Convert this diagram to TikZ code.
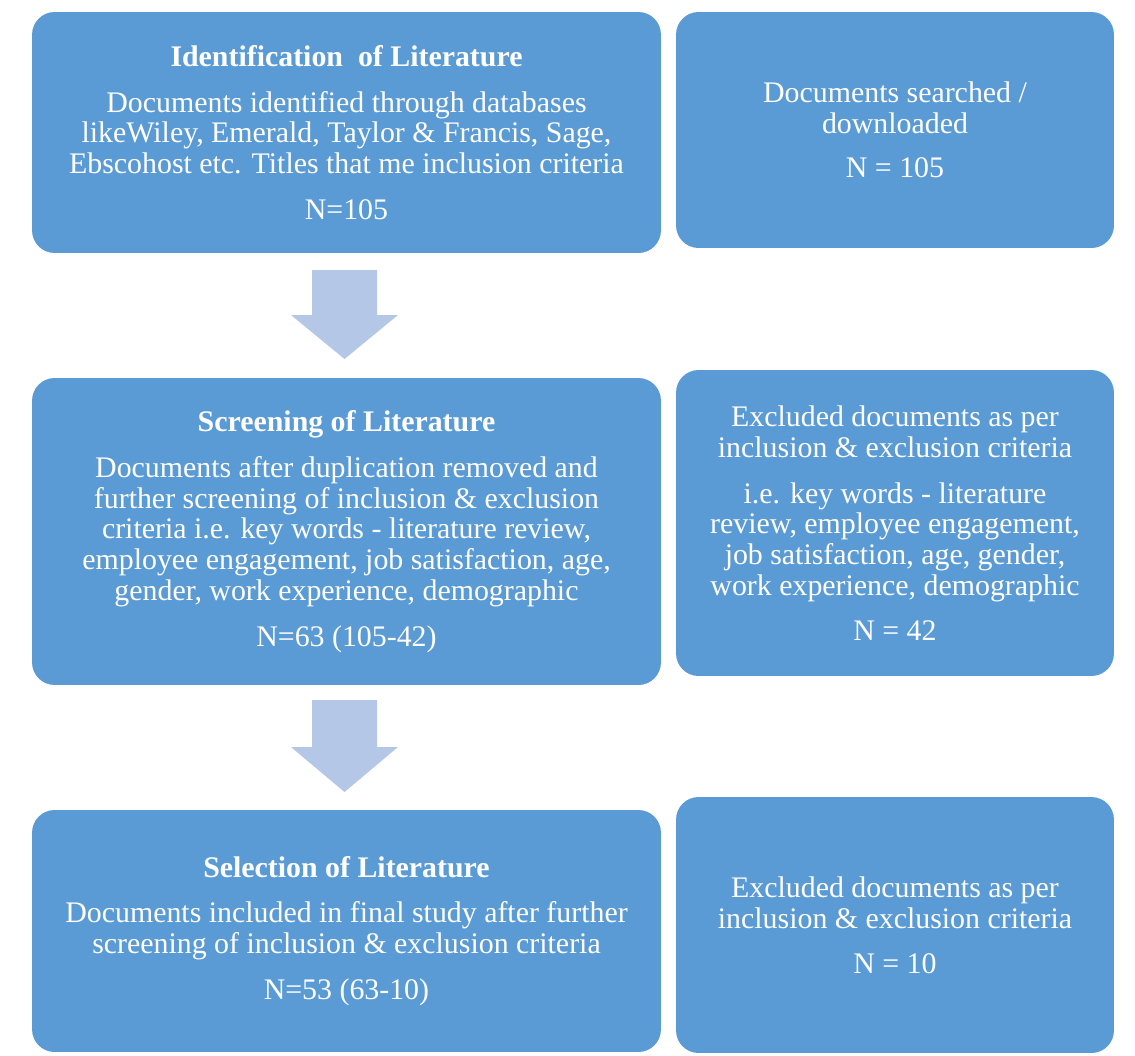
\documentclass[tikz,border=0pt]{standalone}
\usepackage{fontspec}
\setmainfont{Liberation Serif}
\usepackage{tikz}
\definecolor{boxblue}{HTML}{5B9BD5}
\definecolor{arrowblue}{HTML}{B4C7E7}

\begin{document}
\begin{tikzpicture}[x=0.02cm,y=-0.02cm,
   stage node/.style={fill=boxblue,text=white,rounded corners=0.45cm,
     align=center,inner sep=0pt,minimum width=12.58cm,
     font=\fontsize{17}{17.5}\selectfont},
   count node/.style={stage node,minimum width=8.76cm}]

\tikzstyle {flow} = [fill=arrowblue];

\useasboundingbox (0,0) rectangle (1135,1055);

\node[stage node,minimum height=4.82cm] (ident) at (346.5,132.5){\textbf{Identification\ \ of Literature}\\[8.5pt]
Documents identified through databases\\
likeWiley, Emerald, Taylor \& Francis, Sage,\\
Ebscohost etc. Titles that me inclusion criteria\\[8.5pt]
N=105};
\node[count node,minimum height=4.72cm] (found) at (895,130){Documents searched /\\
downloaded\\[8pt]
N = 105};

\node[stage node,minimum height=6.14cm] (screen) at (346.5,531.5){\textbf{Screening of Literature}\\[8.5pt]
Documents after duplication removed and\\
further screening of inclusion \& exclusion\\
criteria i.e. key words - literature review,\\
employee engagement, job satisfaction, age,\\
gender, work experience, demographic\\[8.5pt]
N=63 (105-42)};
\node[count node,minimum height=6.12cm] (drop1) at (895,523){Excluded documents as per\\
inclusion \& exclusion criteria\\[8.5pt]
i.e. key words - literature\\
review, employee engagement,\\
job satisfaction, age, gender,\\
work experience, demographic\\[8pt]
N = 42};

\node[stage node,minimum height=4.84cm] (select) at (346.5,931){\textbf{Selection of Literature}\\[8.5pt]
Documents included in final study after further\\
screening of inclusion \& exclusion criteria\\[8.5pt]
N=53 (63-10)};
\node[count node,minimum height=5.12cm] (drop2) at (895,925){Excluded documents as per\\
inclusion \& exclusion criteria\\[8pt]
N = 10};

\coordinate (f1) at (344.5,270);
\coordinate (f2) at (344.5,700);

\fill[flow] (f1) ++(-32.5,0) -- ++(65,0) -- ++(0,45) -- ++(21,0) -- ++(-53.5,44) -- ++(-53.5,-44) -- ++(21,0) -- cycle;
\fill[flow] (f2) ++(-32.5,0) -- ++(65,0) -- ++(0,47) -- ++(21,0) -- ++(-53.5,45) -- ++(-53.5,-45) -- ++(21,0) -- cycle;

\end{tikzpicture}
\end{document}
